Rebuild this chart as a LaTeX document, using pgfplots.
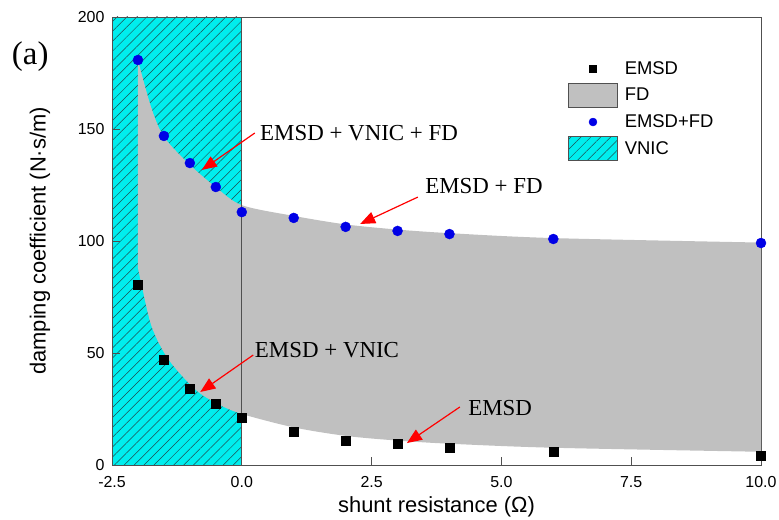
\documentclass[border=0pt]{standalone}
\usepackage{fontspec}
\setmainfont{Liberation Sans}
\newfontfamily\timesfont{Liberation Serif}
\usepackage{pgfplots}
\usepackage{pgfplotstable}
\pgfplotsset{compat=1.18}
\usepgfplotslibrary{fillbetween}
\usetikzlibrary{patterns.meta, arrows.meta}
\definecolor{fdgray}{HTML}{C0C0C0}
\definecolor{vnic}{HTML}{00EEEE}
\definecolor{hatch}{HTML}{1E4E50}
\definecolor{markblue}{HTML}{0000E6}
\definecolor{frame}{HTML}{505050}

% measured points
\pgfplotstableread{
x y
-2 80.4
-1.5 46.9
-1 33.9
-0.5 27.2
0 21.0
1 14.7
2 10.7
3 9.4
4 7.6
6 5.8
10 4.0
}\emsd
\pgfplotstableread{
x y
-2 180.8
-1.5 146.9
-1 134.8
-0.5 124.1
0 112.9
1 110.3
2 106.3
3 104.5
4 103.1
6 100.9
10 99.1
}\emsdfd
% FD band edges, read off the shaded area
\pgfplotstableread{
x y
-2 180.8
-1.75 160
-1.5 146.5
-1 134
-0.5 124
0 116
1 111.2
2 107.4
3 105.1
4 103.5
6 101.3
10 99.3
}\fdup
\pgfplotstableread{
x y
-2 88
-1.93 80.4
-1.735 61.7
-1.415 47.2
-0.9 33.8
-0.484 27.5
0 22.8
1 16.8
2 13.0
3 10.9
4 9.5
6 7.7
10 5.9
}\fdlow

\tikzset{vnicfill/.style={fill=vnic, postaction={pattern={Lines[angle=45,distance=7bp,line width=0.5bp]}, pattern color=hatch}}}
\pgfplotsset{
  markleg/.style={legend image code/.code={\path[draw=none, fill=none] (0bp,-12bp) rectangle (49bp,12bp);\draw[##1] plot coordinates {(24.5bp,0bp)};}},
  boxleg/.style={legend image code/.code={\draw[##1] (0bp,-12bp) rectangle (49bp,12bp);}},
}

\begin{document}
\begin{tikzpicture}
\begin{axis}[
    set layers,
    scale only axis,
    width=649bp, height=448bp,
    xmin=-2.5, xmax=10, ymin=0, ymax=200,
    xtick={-2.5,0,2.5,5,7.5,10},
    ytick={0,50,100,150,200},
    /pgf/number format/assume math mode=true,
    tick label style={font=\fontsize{16}{18}\selectfont},
    xticklabel style={yshift=-8bp, /pgf/number format/.cd, fixed, fixed zerofill, precision=1},
    yticklabel style={xshift=-4bp},
    tick align=inside, tick pos=left,
    major tick length=8bp,
    axis line style={frame, line width=0.8bp},
    every tick/.style={frame, line width=0.8bp},
    clip=false,
    xlabel={shunt resistance (Ω)},
    ylabel={damping coefficient (N·s/m)},
    label style={font=\fontsize{22}{24}\selectfont},
    xlabel style={at={(axis description cs:0.5,-0.094)}, anchor=center},
    ylabel style={at={(axis description cs:-0.111,0.5)}, anchor=center},
    legend style={at={(axis description cs:0.7026,0.912)}, anchor=north west,
        draw=none, fill=none, inner sep=0pt, row sep=2.4bp,
        font=\fontsize{18.5}{21}\selectfont,
        nodes={inner sep=1bp}},
    legend cell align=left,
    /tikz/every odd column/.style={column sep=6bp},
]
% VNIC region
\addplot[vnicfill, draw=none, forget plot, on layer=axis background] coordinates {(-2.5,0) (0,0) (0,200) (-2.5,200)} -- cycle;
% FD band
\addplot[name path=up, draw=none, smooth, forget plot] table {\fdup};
\addplot[name path=lo, draw=none, smooth, forget plot] table {\fdlow};
\addplot[fdgray, forget plot] fill between[of=up and lo];
\addplot[frame, line width=0.8bp, forget plot] coordinates {(-2.5,0) (0,0) (0,200) (-2.5,200) (-2.5,0)};
% markers
\addplot[only marks, mark=square*, black, mark size=4.5bp, forget plot] table {\emsd};
\addplot[only marks, mark=*, markblue, mark size=5bp, forget plot] table {\emsdfd};

\addlegendimage{only marks, mark=square*, black, mark size=3.5bp, markleg}
\addlegendentry{EMSD}
\addlegendimage{fill=fdgray, draw=frame, line width=0.6bp, boxleg}
\addlegendentry{FD}
\addlegendimage{only marks, mark=*, markblue, mark size=4bp, markleg}
\addlegendentry{EMSD+FD}
\addlegendimage{vnicfill, draw=frame, line width=0.6bp, boxleg}
\addlegendentry{VNIC}

% annotations
\begin{scope}[font=\timesfont\fontsize{23}{25}\selectfont]
\node[anchor=west, inner sep=0pt] at (axis cs:0.35,148.2) {EMSD + VNIC + FD};
\node[anchor=west, inner sep=0pt] at (axis cs:3.53,124.6) {EMSD + FD};
\node[anchor=west, inner sep=0pt] at (axis cs:0.25,51.3) {EMSD + VNIC};
\node[anchor=west, inner sep=0pt] at (axis cs:4.36,25.4) {EMSD};
\end{scope}
\begin{scope}[red, line width=1.2bp, -{Triangle[length=15bp,width=12bp]}]
\draw (axis cs:0.25,148.2) -- (axis cs:-0.77,131.7);
\draw (axis cs:3.39,119.6) -- (axis cs:2.28,107.6);
\draw (axis cs:0.22,49.1) -- (axis cs:-0.80,32.6);
\draw (axis cs:4.20,25.9) -- (axis cs:3.18,9.8);
\end{scope}
\node[font=\timesfont\fontsize{33}{35}\selectfont, inner sep=0pt] at (axis description cs:-0.126,0.911) {(a)};
\end{axis}
\pgfresetboundingbox
\useasboundingbox (-112bp,-55bp) rectangle (667bp,465bp);
\end{tikzpicture}
\end{document}
